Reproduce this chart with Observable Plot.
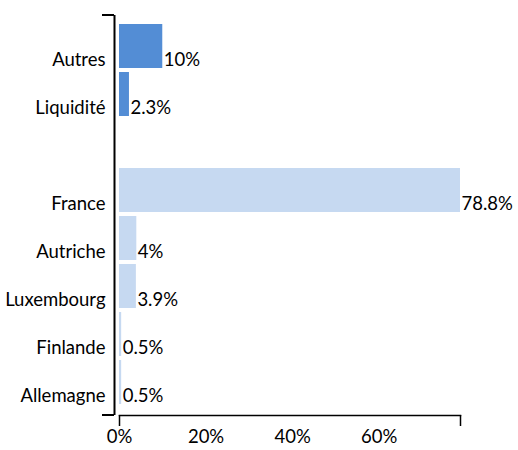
<!DOCTYPE html>
<html>
<head>
<meta charset="utf-8">
<script src="https://cdn.jsdelivr.net/npm/d3@7"></script>
<script src="https://cdn.jsdelivr.net/npm/@observablehq/plot@0.6"></script>
<style>
  html, body { margin: 0; padding: 0; background: #fff; }
</style>
</head>
<body>
<div id="chart"></div>
<script>
const categories = ["Autres", "Liquidité", " ", "France", "Autriche", "Luxembourg", "Finlande", "Allemagne"];
const values = [10, 2.3, null, 78.8, 4, 3.9, 0.5, 0.5];
const labels = ["10%", "2.3%", "", "78.8%", "4%", "3.9%", "0.5%", "0.5%"];
const groups = ["Autres", "Autres", "", "Pays", "Pays", "Pays", "Pays", "Pays"];
const tickValues = [0, 20, 40, 60];
const xMax = 78.8;

const data = categories.map((c, i) => ({cat: c, value: values[i], label: labels[i], group: groups[i]}));
const bars = data.filter(d => d.value != null);

const chart = Plot.plot({
  width: 518,
  height: 450,
  marginLeft: 119,
  marginRight: 58,
  marginTop: 15,
  marginBottom: 35,
  style: {fontFamily: "Lato, 'Open Sans', sans-serif", fontSize: "18.5px", color: "#000", background: "#fff"},
  x: {domain: [0, xMax], axis: null, label: null},
  y: {domain: categories, axis: null, insetTop: 7.5, insetBottom: 8.5, paddingInner: 0.083, paddingOuter: 0.04},
  color: {domain: ["Autres", "Pays"], range: ["#538DD5", "#C6D9F1"]},
  marks: [
    Plot.barX(bars, {y: "cat", x: "value", fill: "group"}),
    Plot.text(bars, {y: "cat", x: "value", text: "label", textAnchor: "start", dx: 1, dy: 14, fill: "#000"}),
    Plot.text(bars, {y: "cat", text: "cat", frameAnchor: "left", textAnchor: "end", dx: -14, dy: 14, fill: "#000"}),
    Plot.frame({anchor: "bottom", stroke: "#000", strokeWidth: 1.5}),
    Plot.ruleX([0], {dx: -5, stroke: "#000", strokeWidth: 2}),
    Plot.axisX({ticks: tickValues, tickSize: 0, tickPadding: 14, tickFormat: d => d + "%", label: null}),
    Plot.axisX({ticks: [0, xMax], tickSize: 11, tickFormat: () => "", strokeWidth: 1.5, label: null})
  ]
});

document.getElementById("chart").appendChild(chart);

// y-axis end caps (Excel-like)
const svgSel = d3.select(chart);
const xr = chart.scale("x").range;
const frameTop = 15, frameBottom = 450 - 35;
[frameTop, frameBottom].forEach(yy => {
  svgSel.append("line")
    .attr("x1", xr[0] - 17).attr("x2", xr[0] - 5)
    .attr("y1", yy).attr("y2", yy)
    .attr("stroke", "#000").attr("stroke-width", 2);
});
</script>
</body>
</html>
